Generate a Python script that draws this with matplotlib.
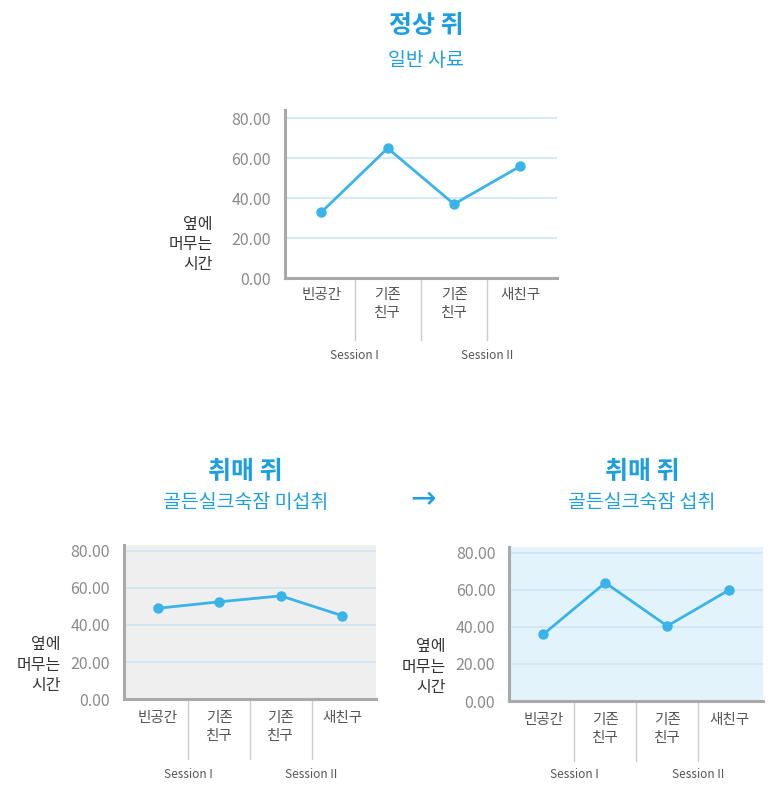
import matplotlib.pyplot as plt
from matplotlib.transforms import blended_transform_factory

plt.rcParams['font.family'] = ['Noto Sans CJK KR', 'DejaVu Sans']

categories = ['빈공간', '기존\n친구', '기존\n친구', '새친구']
sessions = ['Session I', 'Session II']
yticks = [0, 20, 40, 60, 80]
normal = [33, 65, 37, 56]
no_gold = [49, 52.5, 55.7, 45]
gold = [36, 63.8, 40.5, 60]

blue = '#3ab4e8'
title_blue = '#1c9fe0'
gray = '#a9a9a9'
text_gray = '#555555'

fig = plt.figure(figsize=(7.68, 7.99), dpi=100)


def panel(rect, values, bg, ytop, label_off, sep_len, sess_off, ylab_x, ylab_y):
    ax = fig.add_axes(rect)
    ax.set_facecolor(bg)
    x = range(len(values))
    for y in yticks[1:]:
        ax.axhline(y, color='#cfe5f2', lw=1.2, zorder=1)
    ax.plot(x, values, color=blue, lw=2, marker='o', ms=6.5, zorder=3)
    ax.set_xlim(-0.55, 3.55)
    ax.set_ylim(0, ytop)
    ax.set_yticks(yticks)
    ax.set_yticklabels([f'{v:.2f}' for v in yticks], color='#8a8a8a', fontsize=11.5)
    ax.tick_params(axis='y', length=0, pad=10)
    ax.set_xticks([])
    for s in ['top', 'right']:
        ax.spines[s].set_visible(False)
    for s in ['left', 'bottom']:
        ax.spines[s].set_color(gray)
        ax.spines[s].set_linewidth(2.2)
    tr = blended_transform_factory(ax.transData, ax.transAxes)
    for i, c in enumerate(categories):
        ax.annotate(c, (i, 0), xycoords=tr, xytext=(0, -label_off), textcoords='offset pixels',
                    ha='center', va='top', fontsize=10.5, color=text_gray, linespacing=1.35)
    for xs in [0.5, 1.5, 2.5]:
        ax.plot([xs, xs], [0, -sep_len / (rect[3] * 799)], transform=tr, color='#cccccc',
                lw=1, clip_on=False)
    for xs, s in zip([0.5, 2.5], sessions):
        ax.annotate(s, (xs, 0), xycoords=tr, xytext=(0, -sess_off), textcoords='offset pixels',
                    ha='center', va='center', fontsize=8.5, color=text_gray)
    ax.text(ylab_x, ylab_y, '옆에\n머무는\n시간', transform=ax.transAxes, ha='right', va='center',
            fontsize=11.5, color='#333333', linespacing=1.25)
    return ax


panel([0.371, 0.652, 0.354, 0.210], normal, 'white', 84, 10, 62, 77, -0.265, 0.2)
panel([0.161, 0.125, 0.329, 0.193], no_gold, '#efefef', 83.2, 12, 60, 75, -0.25, 0.22)
panel([0.663, 0.1226, 0.331, 0.193], gold, '#e3f3fb', 83.2, 12, 60, 73, -0.25, 0.22)

fig.text(0.555, 1 - 26 / 799, '정상 쥐', ha='center', va='center', fontsize=18, fontweight='bold', color=title_blue)
fig.text(0.555, 1 - 60 / 799, '일반 사료', ha='center', va='center', fontsize=14, color=title_blue)
fig.text(0.32, 1 - 472 / 799, '취매 쥐', ha='center', va='center', fontsize=18, fontweight='bold', color=title_blue)
fig.text(0.32, 1 - 503 / 799, '골든실크숙잠 미섭취', ha='center', va='center', fontsize=14, color=title_blue)
fig.text(0.836, 1 - 472 / 799, '취매 쥐', ha='center', va='center', fontsize=18, fontweight='bold', color=title_blue)
fig.text(0.836, 1 - 503 / 799, '골든실크숙잠 섭취', ha='center', va='center', fontsize=14, color=title_blue)
fig.text(0.551, 1 - 500 / 799, '→', ha='center', va='center', fontsize=22, color=title_blue,
         family=['DejaVu Sans'])

fig.savefig('out.png', dpi=100)
